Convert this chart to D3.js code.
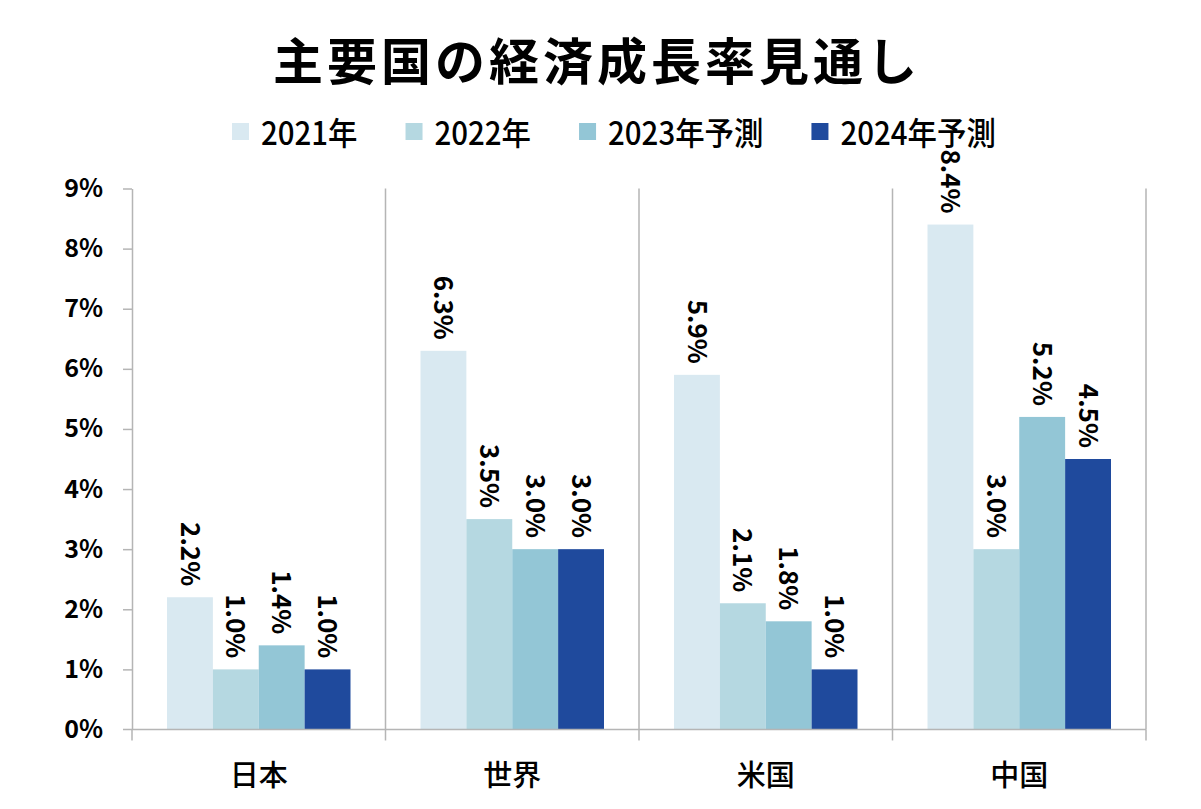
<!DOCTYPE html>
<html><head><meta charset="utf-8">
<script src="https://cdn.jsdelivr.net/npm/d3@7"></script>
<style>
html,body{margin:0;padding:0;background:#fff;}
svg{display:block;font-family:"Noto Sans CJK JP","Noto Sans",sans-serif;}
</style></head>
<body><svg id="c" width="1201" height="809"></svg>
<script>
const titleText = "主要国の経済成長率見通し";
const categories = ["日本","世界","米国","中国"];
const seriesNames = ["2021年","2022年","2023年予測","2024年予測"];
const v2021 = [2.2, 6.3, 5.9, 8.4];
const v2022 = [1.0, 3.5, 2.1, 3.0];
const v2023 = [1.4, 3.0, 1.8, 5.2];
const v2024 = [1.0, 3.0, 1.0, 4.5];
const yTicks = [0,1,2,3,4,5,6,7,8,9];
const colors = ["#d9e9f1","#b5d8e1","#93c6d6","#1f4a9d"];

(function(){
const seriesValues = [v2021, v2022, v2023, v2024];
const svg = d3.select("#c");
const axisColor = "#b5b5b5";

const pLeft = 132, pRight = 1146, pTop = 188.5, pBottom = 729.5;
const x0 = d3.scaleBand().domain(categories).range([pLeft, pRight]).padding(0);
const inset = 35;
const x1 = d3.scaleBand().domain(seriesNames).range([inset, x0.bandwidth() - inset]).padding(0);
const y = d3.scaleLinear().domain([0, 9]).range([pBottom, pTop]);

// Title
svg.append("text").attr("x", 597).attr("y", 58)
  .attr("text-anchor","middle").attr("dominant-baseline","central")
  .attr("font-size", 50).attr("font-weight", 700).attr("letter-spacing", 4)
  .attr("fill","#000").text(titleText);

// Legend
const lg = svg.append("g").selectAll("g").data(seriesNames).join("g");
lg.append("rect").attr("width", 17).attr("height", 17).attr("y", 123).attr("fill", (d,i)=>colors[i]);
lg.append("text").attr("dominant-baseline","central")
  .attr("font-size", 32).attr("font-weight", 500).attr("fill","#000").text(d=>d);
let lx = 232;
const sx = 0.92;
lg.each(function(d,i){
  const g = d3.select(this);
  g.select("rect").attr("x", lx);
  const t = g.select("text");
  t.attr("transform", `translate(${lx+29},131) scale(${sx},1)`);
  const w = t.node().getComputedTextLength()*sx;
  lx = lx + 29 + w + 48;
});

// dividers
const bounds = categories.map(c => x0(c)).concat([pRight]);
svg.append("g").selectAll("line").data(bounds.slice(1)).join("line")
  .attr("x1", d=>d).attr("x2", d=>d).attr("y1", pTop).attr("y2", pBottom)
  .attr("stroke", axisColor).attr("stroke-width", 1.5);

// bars
const groups = svg.append("g").selectAll("g").data(categories).join("g")
  .attr("transform", d => `translate(${x0(d)},0)`);
const rows = (c,ci) => seriesNames.map((s,si)=>({s, si, v: seriesValues[si][ci]}));
groups.selectAll("rect").data(rows).join("rect")
  .attr("x", d => x1(d.s)).attr("width", x1.bandwidth())
  .attr("y", d => y(d.v)).attr("height", d => y(0) - y(d.v))
  .attr("fill", d => colors[d.si]);

groups.selectAll("text").data(rows).join("text")
  .attr("transform", d => `translate(${x1(d.s) + x1.bandwidth()/2},${y(d.v) - 11}) rotate(90)`)
  .attr("text-anchor","end").attr("dy","0.36em")
  .attr("font-size", 26).attr("font-weight", 700).attr("fill","#000")
  .text(d => d.v.toFixed(1) + "%");

// y axis
const yAxis = svg.append("g").attr("transform", `translate(${pLeft},0)`)
  .call(d3.axisLeft(y).tickValues(yTicks).tickFormat(d => d + "%").tickSize(9).tickSizeOuter(0).tickPadding(20));
yAxis.select(".domain").attr("stroke", axisColor).attr("stroke-width", 1.5);
yAxis.selectAll(".tick line").attr("stroke", axisColor).attr("stroke-width", 1.5);
yAxis.selectAll(".tick text").attr("font-size", 25).attr("font-weight", 700).attr("fill","#000")
  .attr("font-family", '"Noto Sans CJK JP","Noto Sans",sans-serif');
yAxis.selectAll(".tick").filter(d => d === 0).select("line").remove();

// x axis
svg.append("line").attr("x1", pLeft - 9).attr("x2", pRight).attr("y1", pBottom).attr("y2", pBottom)
  .attr("stroke", axisColor).attr("stroke-width", 1.5);
svg.append("g").selectAll("line").data(bounds).join("line")
  .attr("x1", d=>d).attr("x2", d=>d).attr("y1", pBottom).attr("y2", pBottom + 11)
  .attr("stroke", axisColor).attr("stroke-width", 1.5);
const xAxis = svg.append("g").attr("transform", `translate(0,${pBottom})`)
  .call(d3.axisBottom(x0).tickSize(0).tickPadding(36));
xAxis.select(".domain").remove();
xAxis.selectAll(".tick text").attr("font-size", 29).attr("font-weight", 500).attr("fill","#000")
  .attr("font-family", '"Noto Sans CJK JP",sans-serif');
})();
</script></body></html>
